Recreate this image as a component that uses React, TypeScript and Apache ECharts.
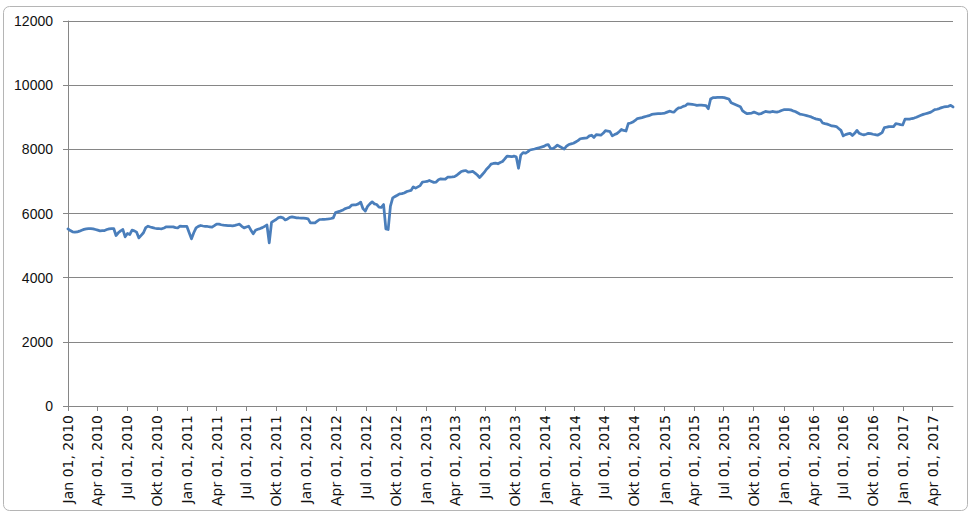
import React, { useEffect, useRef } from "react";
import * as echarts from "echarts";

// Weekly observations starting at the first date below
const seriesStart = "2010-01-01";
const weeklyValues: number[] = [
  5520, 5470, 5430, 5420, 5425, 5450, 5480, 5505, 5520, 5530,
  5530, 5520, 5500, 5480, 5460, 5465, 5470, 5500, 5520, 5530,
  5532, 5314, 5400, 5460, 5500, 5273, 5376, 5345, 5480, 5460,
  5418, 5240, 5320, 5400, 5560, 5605, 5580, 5560, 5540, 5530,
  5525, 5522, 5550, 5584, 5584, 5580, 5584, 5560, 5553, 5605,
  5600, 5595, 5595, 5400, 5210, 5400, 5553, 5600, 5626, 5610,
  5600, 5595, 5585, 5574, 5620, 5670, 5670, 5650, 5636, 5630,
  5625, 5620, 5615, 5630, 5650, 5668, 5600, 5553, 5580, 5605,
  5480, 5366, 5480, 5510, 5530, 5560, 5600, 5640, 5086, 5720,
  5770, 5813, 5870, 5886, 5865, 5800, 5830, 5880, 5896, 5880,
  5865, 5860, 5858, 5855, 5845, 5834, 5709, 5709, 5709, 5760,
  5813, 5815, 5820, 5823, 5830, 5844, 5865, 6030, 6052, 6073,
  6100, 6145, 6170, 6190, 6260, 6270, 6270, 6300, 6353, 6150,
  6073, 6220, 6300, 6364, 6300, 6280, 6200, 6190, 6280, 5522,
  5500, 6229, 6488, 6530, 6570, 6613, 6620, 6640, 6680, 6700,
  6720, 6830, 6790, 6830, 6870, 6980, 6990, 7000, 7030, 7000,
  6970, 6980, 7050, 7080, 7075, 7070, 7130, 7135, 7140, 7150,
  7190, 7250, 7310, 7330, 7340, 7290, 7300, 7310, 7260, 7200,
  7120, 7200, 7280, 7380, 7450, 7540, 7560, 7570, 7550, 7590,
  7620, 7700, 7790, 7780, 7770, 7790, 7770, 7410, 7820, 7900,
  7880, 7920, 7980, 7995, 8010, 8030, 8050, 8070, 8090, 8130,
  8150, 8030, 8020, 8070, 8130, 8090, 8050, 8010, 8100, 8150,
  8170, 8190, 8230, 8270, 8330, 8340, 8350, 8360, 8420, 8440,
  8370, 8460, 8450, 8440, 8500, 8580, 8570, 8550, 8420, 8460,
  8490, 8550, 8620, 8590, 8570, 8800, 8820, 8850, 8900, 8960,
  8975, 8990, 9010, 9030, 9050, 9080, 9100, 9105, 9110, 9115,
  9120, 9130, 9160, 9190, 9170, 9160, 9240, 9290, 9300, 9340,
  9360, 9420, 9410, 9400, 9390, 9370, 9375, 9380, 9370, 9360,
  9265, 9570, 9610, 9615, 9620, 9620, 9620, 9610, 9590, 9570,
  9450, 9420, 9390, 9360, 9330, 9200, 9150, 9110, 9120, 9130,
  9160, 9130, 9100, 9110, 9150, 9180, 9170, 9160, 9180, 9170,
  9160, 9180, 9210, 9235, 9235, 9235, 9230, 9200, 9180, 9140,
  9100, 9085, 9070, 9050, 9030, 9010, 8975, 8950, 8935, 8920,
  8820, 8800, 8785, 8760, 8730, 8720, 8710, 8650, 8590, 8420,
  8460, 8480, 8500, 8430, 8500, 8590, 8500, 8470, 8450, 8470,
  8500, 8490, 8470, 8460, 8440, 8480, 8520, 8680, 8690, 8710,
  8710, 8710, 8800, 8790, 8770, 8760, 8940, 8940, 8940, 8960,
  8975, 9000, 9030, 9060, 9090, 9110, 9130, 9150, 9190, 9235,
  9250, 9270, 9300, 9320, 9330, 9340, 9370, 9320,
];

const tickDates: string[] = [
  "2010-01-01", "2010-04-01", "2010-07-01", "2010-10-01",
  "2011-01-01", "2011-04-01", "2011-07-01", "2011-10-01",
  "2012-01-01", "2012-04-01", "2012-07-01", "2012-10-01",
  "2013-01-01", "2013-04-01", "2013-07-01", "2013-10-01",
  "2014-01-01", "2014-04-01", "2014-07-01", "2014-10-01",
  "2015-01-01", "2015-04-01", "2015-07-01", "2015-10-01",
  "2016-01-01", "2016-04-01", "2016-07-01", "2016-10-01",
  "2017-01-01", "2017-04-01",
];
const tickLabels: string[] = [
  "Jan 01, 2010", "Apr 01, 2010", "Jul 01, 2010", "Okt 01, 2010",
  "Jan 01, 2011", "Apr 01, 2011", "Jul 01, 2011", "Okt 01, 2011",
  "Jan 01, 2012", "Apr 01, 2012", "Jul 01, 2012", "Okt 01, 2012",
  "Jan 01, 2013", "Apr 01, 2013", "Jul 01, 2013", "Okt 01, 2013",
  "Jan 01, 2014", "Apr 01, 2014", "Jul 01, 2014", "Okt 01, 2014",
  "Jan 01, 2015", "Apr 01, 2015", "Jul 01, 2015", "Okt 01, 2015",
  "Jan 01, 2016", "Apr 01, 2016", "Jul 01, 2016", "Okt 01, 2016",
  "Jan 01, 2017", "Apr 01, 2017",
];

const yMin = 0;
const yMax = 12000;
const yInterval = 2000;

function toTs(s: string): number {
  const [y, m, d] = s.split("-").map(Number);
  return Date.UTC(y, m - 1, d);
}

export default function App() {
  const ref = useRef<HTMLDivElement>(null);

  useEffect(() => {
    if (!ref.current) return;
    const chart = echarts.init(ref.current, undefined, { renderer: "svg" });
    const DAY = 86400000;
    const start = toTs(seriesStart);
    const data = weeklyValues.map((v, i) => [start + i * 7 * DAY, v]);
    const tickTs = tickDates.map(toTs);
    const labelMap = new Map<number, string>();
    tickTs.forEach((t, i) => labelMap.set(t, tickLabels[i]));
    const lastTs = data[data.length - 1][0] as number;

    chart.setOption({
      animation: false,
      backgroundColor: "#ffffff",
      grid: { left: 68, right: 15, top: 21, bottom: 108, containLabel: false },
      graphic: [
        {
          type: "rect",
          left: 1,
          top: 4,
          shape: { width: 964, height: 504, r: 6 },
          style: { fill: "none", stroke: "#b5b5b5", lineWidth: 1 },
          silent: true,
          z: -1,
        },
      ],
      xAxis: {
        type: "value",
        min: start,
        max: lastTs,
        splitLine: { show: false },
        axisLine: { show: true, onZero: false, lineStyle: { color: "#868686", width: 1 } },
        axisTick: {
          show: true,
          length: 5,
          customValues: tickTs,
          lineStyle: { color: "#868686" },
        },
        axisLabel: {
          customValues: tickTs,
          rotate: 90,
          margin: 9,
          color: "#111111",
          fontSize: 14,
          fontFamily: "DejaVu Sans",
          formatter: (val: number) => labelMap.get(val) ?? "",
        },
      },
      yAxis: {
        type: "value",
        min: yMin,
        max: yMax,
        interval: yInterval,
        axisLine: { show: true, lineStyle: { color: "#868686", width: 1 } },
        axisTick: { show: true, length: 5, lineStyle: { color: "#868686" } },
        splitLine: { show: true, lineStyle: { color: "#868686", width: 1 } },
        axisLabel: {
          color: "#111111",
          fontSize: 14,
          fontFamily: "Liberation Sans",
          margin: 15,
          formatter: (v: number) => String(v),
        },
      },
      series: [
        {
          type: "line",
          data,
          showSymbol: false,
          symbol: "none",
          lineStyle: { color: "#4a7ebb", width: 2.75, join: "round", cap: "round" },
        },
      ],
    });
    return () => chart.dispose();
  }, []);

  return (
    <div
      ref={ref}
      style={{ position: "absolute", left: 0, top: 0, width: 968, height: 514 }}
    />
  );
}
